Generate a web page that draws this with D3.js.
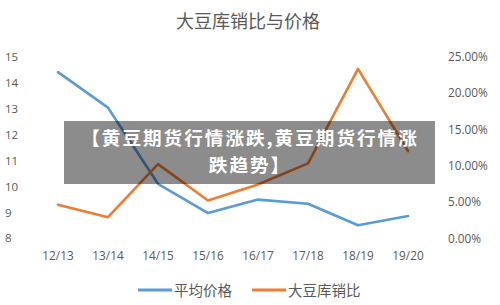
<!DOCTYPE html>
<html><head><meta charset="utf-8">
<script src="https://cdn.jsdelivr.net/npm/d3@7"></script>
<style>
html,body{margin:0;padding:0;background:#fff;}
svg{display:block;}
</style></head>
<body>
<svg id="chart" width="500" height="305"></svg>
<script>
const title = "大豆库销比与价格";
const categories = ["12/13","13/14","14/15","15/16","16/17","17/18","18/19","19/20"];
const priceValues = [14.40, 13.03, 10.10, 8.97, 9.49, 9.33, 8.50, 8.86];
const ratioValues = [0.046, 0.029, 0.102, 0.052, 0.074, 0.103, 0.233, 0.120];
const leftTicks = [8,9,10,11,12,13,14,15];
const rightTicks = [0,0.05,0.10,0.15,0.20,0.25];
const seriesNames = ["平均价格","大豆库销比"];
const overlayLines = ["【黄豆期货行情涨跌,黄豆期货行情涨","跌趋势】"];

const svg = d3.select("#chart");
const plotTop = 56.5, plotBottom = 238.3, plotLeft = 33, plotRight = 433;
const x = d3.scaleBand().domain(categories).range([plotLeft, plotRight]);
const yL = d3.scaleLinear().domain([8,15]).range([plotBottom, plotTop]);
const yR = d3.scaleLinear().domain([0,0.25]).range([plotBottom, plotTop]);
const numFont = "'Open Sans', 'Noto Sans', sans-serif";
const cjkFont = "'Noto Sans CJK SC', sans-serif";
const textColor = "#595959";

svg.append("text").attr("x", 248).attr("y", 28).attr("text-anchor","middle")
  .attr("font-family", cjkFont).attr("font-size", 18).attr("fill", textColor).text(title);

// left axis
const axL = svg.append("g").attr("transform", `translate(${plotLeft},0)`)
  .call(d3.axisLeft(yL).tickValues(leftTicks).tickSize(0).tickPadding(10).tickFormat(d3.format("d")));
axL.select(".domain").remove();
axL.selectAll("text").attr("font-family", numFont).attr("font-size", 11.5).attr("fill", textColor).attr("text-anchor","start").attr("x", -28);

// right axis
const axR = svg.append("g").attr("transform", `translate(${plotRight},0)`)
  .call(d3.axisRight(yR).tickValues(rightTicks).tickSize(0).tickPadding(15).tickFormat(d3.format(".2%")));
axR.select(".domain").remove();
axR.selectAll("text").attr("font-family", numFont).attr("font-size", 11.8).attr("fill", textColor);

// x axis
const axX = svg.append("g").attr("transform", `translate(0,${plotBottom})`)
  .call(d3.axisBottom(x).tickSize(0).tickPadding(13));
axX.select(".domain").remove();
axX.selectAll("text").attr("font-family", numFont).attr("font-size", 11.8).attr("fill", textColor);

const cx = d => x(d) + x.bandwidth()/2;
const lineP = d3.line().x((d,i) => cx(categories[i])).y(d => yL(d));
const lineR = d3.line().x((d,i) => cx(categories[i])).y(d => yR(d));

svg.append("path").datum(priceValues).attr("d", lineP).attr("fill","none")
  .attr("stroke","#5B9BD5").attr("stroke-width",2.6).attr("stroke-linejoin","round").attr("stroke-linecap","round");
svg.append("path").datum(ratioValues).attr("d", lineR).attr("fill","none")
  .attr("stroke","#ED7D31").attr("stroke-width",2.6).attr("stroke-linejoin","round").attr("stroke-linecap","round");

// legend
const legend = svg.append("g");
const legItems = [{name: seriesNames[0], color:"#5B9BD5", x:138},{name: seriesNames[1], color:"#ED7D31", x:252}];
legItems.forEach(it => {
  legend.append("line").attr("x1", it.x).attr("x2", it.x+34).attr("y1", 290).attr("y2", 290)
    .attr("stroke", it.color).attr("stroke-width", 3);
  legend.append("text").attr("x", it.x+36).attr("y", 296).attr("font-family", cjkFont)
    .attr("font-size", 14.5).attr("fill", textColor).text(it.name);
});

// overlay
svg.append("rect").attr("x", 64).attr("y", 121).attr("width", 371).attr("height", 63)
  .attr("fill", "rgba(0,0,0,0.45)");
overlayLines.forEach((t,i) => {
  svg.append("text").attr("x", 250).attr("y", 145 + i*27).attr("text-anchor","middle")
    .attr("font-family", cjkFont).attr("font-weight", "bold").attr("font-size", 18.6)
    .attr("letter-spacing", 2).attr("fill", "#fff").text(t);
});
</script>
</body></html>
